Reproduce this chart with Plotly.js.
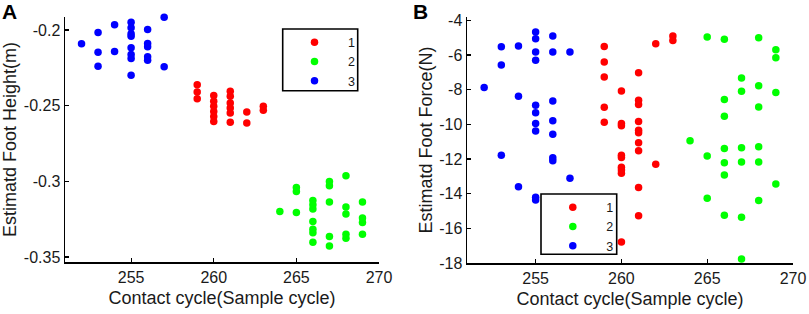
<!DOCTYPE html>
<html>
<head>
<meta charset="utf-8">
<script src="https://cdn.plot.ly/plotly-3.0.1.min.js"></script>
<style>
  html, body { margin: 0; padding: 0; background: #fff; }
  #chart { width: 809px; height: 314px; }
</style>
</head>
<body>
<div id="chart"></div>
<script>
// Panel A: estimated foot height (m)
const heightX1 = [259, 259, 259, 260, 260, 260, 260, 260, 260, 261, 261, 261, 261, 261, 261, 262, 262, 263, 263];
const heightY1 = [-0.2361, -0.2409, -0.2455, -0.2432, -0.2471, -0.2504, -0.2538, -0.2571, -0.2604,
  -0.2405, -0.2438, -0.2482, -0.2515, -0.2548, -0.261, -0.2542, -0.2614, -0.2504, -0.2531];
const heightX2 = [264, 265, 265, 265, 266, 266, 266, 266, 266, 266, 266, 267, 267, 267, 267, 267,
  268, 268, 268, 268, 268, 268, 269, 269, 269, 269];
const heightY2 = [-0.32, -0.3041, -0.3067, -0.3206, -0.3127, -0.3155, -0.3182, -0.3266, -0.3316, -0.3339, -0.3402,
  -0.3001, -0.3029, -0.3137, -0.3365, -0.3427, -0.2963, -0.317, -0.3215, -0.3349, -0.3376, -0.3537,
  -0.3137, -0.3243, -0.3272, -0.3349];
const heightX3 = [252, 253, 253, 253, 254, 254, 255, 255, 255, 255, 255, 255, 255, 255, 256, 256, 256, 256, 256, 257, 257];
const heightY3 = [-0.2091, -0.2017, -0.2147, -0.224, -0.1966, -0.2142, -0.1948, -0.1985, -0.2025, -0.2041,
  -0.2118, -0.2162, -0.2189, -0.2299, -0.1997, -0.2089, -0.2111, -0.2177, -0.22, -0.1915, -0.2242];

// Panel B: estimated foot force (N)
const forceX1 = [259, 259, 259, 259, 259, 260, 260, 260, 260, 260, 260, 260, 260, 260,
  261, 261, 261, 261, 261, 261, 261, 261, 261, 261, 262, 262, 263, 263];
const forceY1 = [-5.51, -6.41, -7.27, -9.01, -9.88, -8.08, -9.95, -10.09, -11.79, -11.91, -12.48, -12.64, -12.83, -16.79,
  -7.02, -8.61, -8.86, -9.84, -10.34, -10.49, -11.07, -11.53, -13.65, -15.28, -5.35, -12.31, -4.91, -5.16];
const forceX2 = [264, 265, 265, 265, 266, 266, 266, 266, 266, 266, 266, 267, 267, 267, 267, 267, 267,
  268, 268, 268, 268, 268, 268, 269, 269, 269, 269];
const forceY2 = [-10.95, -4.97, -11.83, -14.26, -5.09, -8.57, -9.53, -11.39, -12.22, -12.92, -15.24,
  -7.33, -8.09, -11.35, -12.18, -15.36, -17.77, -5.01, -7.77, -9.0, -11.3, -12.18, -14.4,
  -5.7, -6.16, -8.17, -13.44];
const forceX3 = [252, 253, 253, 253, 254, 254, 254, 255, 255, 255, 255, 255, 255, 255, 255, 255, 255,
  256, 256, 256, 256, 256, 256, 256, 257, 257];
const forceY3 = [-7.88, -5.52, -6.58, -11.79, -5.49, -8.38, -13.6, -4.68, -5.06, -5.83, -6.31, -8.9, -9.33, -9.95,
  -10.39, -14.21, -14.36, -4.91, -5.83, -8.65, -9.8, -10.58, -11.93, -12.1, -5.83, -13.11];

const groupNames = ["1", "2", "3"];
const groupColors = ["#ff0000", "#00ff00", "#0000ff"];

const cycleTicks = [255, 260, 265, 270];
const heightTicks = [-0.35, -0.3, -0.25, -0.2];
const heightTickText = ["-0.35", "-0.3", "-0.25", "-0.2"];
const forceTicks = [-18, -16, -14, -12, -10, -8, -6, -4];
const forceTickText = forceTicks.map(v => String(v));

const FONT = "Arial, 'Liberation Sans', sans-serif";
const W = 809, H = 314;

function groupTrace(x, y, idx, xa, ya, legendId) {
  return {
    type: "scatter",
    mode: "markers",
    x: x,
    y: y,
    xaxis: xa,
    yaxis: ya,
    name: "\u00a0" + groupNames[idx],
    legend: legendId,
    cliponaxis: false,
    marker: { size: 7.5, color: groupColors[idx], line: { width: 0 } },
    hoverinfo: "x+y",
  };
}

const traces = [
  groupTrace(heightX1, heightY1, 0, "x", "y", "legend"),
  groupTrace(heightX2, heightY2, 1, "x", "y", "legend"),
  groupTrace(heightX3, heightY3, 2, "x", "y", "legend"),
  groupTrace(forceX1, forceY1, 0, "x2", "y2", "legend2"),
  groupTrace(forceX2, forceY2, 1, "x2", "y2", "legend2"),
  groupTrace(forceX3, forceY3, 2, "x2", "y2", "legend2"),
];

const axisBase = {
  showline: true,
  linecolor: "#000",
  linewidth: 1.5,
  ticks: "inside",
  ticklen: 4,
  tickwidth: 1.2,
  tickcolor: "#000",
  showgrid: false,
  zeroline: false,
  tickfont: { family: FONT, size: 16, color: "#1a1a1a" },
};

const xTitle = { text: "Contact cycle(Sample cycle)", font: { family: FONT, size: 18, color: "#1a1a1a" }, standoff: 6 };

// legend boxes are drawn as shapes so their size matches the original frame
const legendBase = {
  borderwidth: 0,
  bgcolor: "rgba(0,0,0,0)",
  font: { family: FONT, size: 12.5, color: "#1a1a1a" },
  itemwidth: 50,
  xanchor: "left",
  yanchor: "top",
  tracegroupgap: 0,
};

function legendFrame(x0, y0, x1, y1) {
  return {
    type: "rect", xref: "paper", yref: "paper", layer: "below",
    x0: x0 / W, x1: x1 / W, y0: 1 - y1 / H, y1: 1 - y0 / H,
    line: { color: "#000", width: 1.6 }, fillcolor: "#fff",
  };
}

const layout = {
  width: W,
  height: H,
  margin: { l: 0, r: 0, t: 0, b: 0 },
  paper_bgcolor: "#fff",
  plot_bgcolor: "#fff",
  showlegend: true,
  xaxis: { ...axisBase, domain: [65 / W, 379 / W], range: [251, 270], tickvals: cycleTicks, title: xTitle, anchor: "y" },
  yaxis: { ...axisBase, domain: [1 - 262 / H, 1 - 17 / H], range: [-0.3533, -0.1914],
    tickvals: heightTicks, ticktext: heightTickText, anchor: "x",
    title: { text: "Estimatd Foot Height(m)", font: { family: FONT, size: 18, color: "#1a1a1a" }, standoff: 4 } },
  xaxis2: { ...axisBase, domain: [467 / W, 793 / W], range: [251, 270], tickvals: cycleTicks, title: xTitle, anchor: "y2" },
  yaxis2: { ...axisBase, domain: [1 - 263 / H, 1 - 17 / H], range: [-18, -3.81],
    tickvals: forceTicks, ticktext: forceTickText, anchor: "x2",
    title: { text: "Estimatd Foot Force(N)", font: { family: FONT, size: 18, color: "#1a1a1a" }, standoff: 2 } },
  legend: { ...legendBase, x: 284.5 / W, y: 1 - 27.5 / H },
  legend2: { ...legendBase, x: 542.8 / W, y: 1 - 192.5 / H },
  shapes: [
    legendFrame(282.7, 29, 357.7, 90.7),
    legendFrame(541, 194, 616.7, 254.3),
  ],
  annotations: [
    { text: "<b>A</b>", xref: "paper", yref: "paper", x: 0, y: 1, xanchor: "left", yanchor: "top",
      showarrow: false, font: { family: FONT, size: 21, color: "#000" }, yshift: 2 },
    { text: "<b>B</b>", xref: "paper", yref: "paper", x: 411 / W, y: 1, xanchor: "left", yanchor: "top",
      showarrow: false, font: { family: FONT, size: 21, color: "#000" }, yshift: 2 },
  ],
};

Plotly.newPlot("chart", traces, layout, { displayModeBar: false, staticPlot: true });
</script>
</body>
</html>
